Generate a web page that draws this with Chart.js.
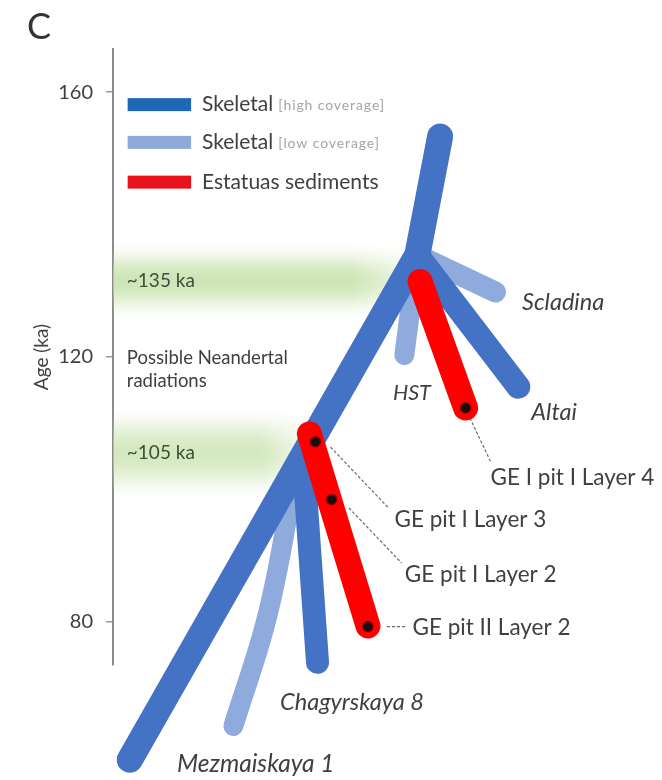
<!DOCTYPE html>
<html>
<head>
<meta charset="utf-8">
<script src="https://cdn.jsdelivr.net/npm/chart.js@4.4.1/dist/chart.umd.min.js"></script>
<style>
  html, body { margin: 0; padding: 0; background: #fff; }
</style>
</head>
<body>
<canvas id="chart" width="662" height="780"></canvas>
<script>
// Age axis (ka)
const Y_TICKS = [80, 120, 160];
const Y_RANGE = [73.5, 166.5];

// Branches: horizontal spread (arbitrary units 0-100) and age (ka)
const TRUNK_X = [3.1, 56.1, 60.3];
const TRUNK_AGE = [59.2, 135.4, 153.3];
const ALTAI_X = [56.1, 74.7];
const ALTAI_AGE = [135.4, 115.5];
const CHAGYRSKAYA_X = [35.0, 37.7];
const CHAGYRSKAYA_AGE = [105.3, 73.9];
const SCLADINA_X = [56.1, 70.5];
const SCLADINA_AGE = [135.4, 129.8];
const HST_X = [56.1, 53.7];
const HST_AGE = [135.4, 120.3];
const MEZMAISKAYA_X = [33.7, 28.6, 22.2];
const MEZMAISKAYA_AGE = [103.0, 81.4, 64.3];
const SED_UPPER_X = [56.6, 65.0];
const SED_UPPER_AGE = [131.4, 112.3];
const SED_LOWER_X = [36.2, 47.0];
const SED_LOWER_AGE = [108.4, 79.4];

// Sediment samples (dots) and their label leaders
const SAMPLE_NAMES = ['GE I pit I Layer 4', 'GE pit I Layer 3', 'GE pit I Layer 2', 'GE pit II Layer 2'];
const SAMPLE_X = [65.0, 37.3, 40.3, 47.0];
const SAMPLE_AGE = [112.3, 107.2, 98.5, 79.3];
const LEADER_X = [[65.8, 69.6], [40.1, 50.8], [43.5, 53.2], [50.5, 54.1]];
const LEADER_AGE = [[110.8, 104.2], [106.4, 97.2], [97.2, 88.9], [79.3, 79.3]];
const SAMPLE_LABEL_X = [69.6, 51.9, 53.8, 55.2];
const SAMPLE_LABEL_AGE = [101.8, 95.4, 87.1, 79.1];

// Possible radiation bands (ka)
const BAND_NAMES = ['~135 ka', '~105 ka'];
const BAND_AGE = [131.5, 105.5];

// Legend
const LEGEND_LABELS = ['Skeletal', 'Skeletal', 'Estatuas sediments'];
const LEGEND_NOTES = ['[high coverage]', '[low coverage]', ''];
const LEGEND_COLORS = ['#1F69B4', '#8EAADB', '#E8141C'];

const DARK = '#4472C4', LIGHT = '#8FAADC', RED = '#FF0000';
const FONT = 'Lato, "Open Sans", sans-serif';
const TEXT = '#404040';

function pts(xs, ys) {
  return xs.map((x, i) => ({ x: x, y: ys[i] }));
}

function branch(label, xs, ys, color, width, order, tension) {
  return {
    label: label,
    data: pts(xs, ys),
    borderColor: color,
    borderWidth: width,
    borderCapStyle: 'round',
    borderJoinStyle: 'round',
    pointRadius: 0,
    fill: false,
    tension: tension || 0,
    clip: false,
    order: order
  };
}

const datasets = [
  branch('Mezmaiskaya 1', MEZMAISKAYA_X, MEZMAISKAYA_AGE, LIGHT, 20, 4, 0.4),
  branch('Scladina', SCLADINA_X, SCLADINA_AGE, LIGHT, 21, 4),
  branch('HST', HST_X, HST_AGE, LIGHT, 20, 4),
  branch('Trunk', TRUNK_X, TRUNK_AGE, DARK, 26, 3),
  branch('Altai', ALTAI_X, ALTAI_AGE, DARK, 24, 3),
  branch('Chagyrskaya 8', CHAGYRSKAYA_X, CHAGYRSKAYA_AGE, DARK, 23, 3),
  branch('Sediments upper', SED_UPPER_X, SED_UPPER_AGE, RED, 25, 1),
  branch('Sediments lower', SED_LOWER_X, SED_LOWER_AGE, RED, 25, 1)
];

LEADER_X.forEach((xs, i) => {
  datasets.push({
    label: 'leader ' + i,
    data: pts(xs, LEADER_AGE[i]),
    borderColor: '#6a6a6a',
    borderWidth: 1.2,
    borderDash: [3, 2],
    pointRadius: 0,
    fill: false,
    clip: false,
    order: 2
  });
});

datasets.push({
  label: 'samples',
  data: pts(SAMPLE_X, SAMPLE_AGE),
  showLine: false,
  pointRadius: 5,
  pointBackgroundColor: '#111',
  pointBorderColor: '#800000',
  pointBorderWidth: 1.5,
  clip: false,
  order: 0
});

// soft green bands behind the tree, one row at a time
const bandPlugin = {
  id: 'bands',
  beforeDatasetsDraw(chart, args, opts) {
    const { ctx, scales: { x, y } } = chart;
    BAND_AGE.forEach((age, i) => {
      const top = y.getPixelForValue(age + opts.half[i]);
      const bottom = y.getPixelForValue(age - opts.half[i]);
      const x0 = x.getPixelForValue(0);
      const xf = x.getPixelForValue(opts.fadeFrom[i]);
      const x1 = x.getPixelForValue(opts.fadeTo[i]);
      const h = bottom - top;
      ctx.save();
      for (let r = 0; r < h; r++) {
        const t = (r + 0.5) / h;
        const a = Math.pow(Math.sin(Math.PI * t), 2) * 0.8;
        const g = ctx.createLinearGradient(x0, 0, x1, 0);
        const c = 'rgba(190,221,160,';
        g.addColorStop(0, c + a + ')');
        g.addColorStop((xf - x0) / (x1 - x0), c + a + ')');
        g.addColorStop(1, c + '0)');
        ctx.fillStyle = g;
        ctx.fillRect(x0, top + r, x1 - x0, 1);
      }
      ctx.restore();
    });
  }
};

// labels, legend, panel letter
const textPlugin = {
  id: 'texts',
  afterDatasetsDraw(chart, args, opts) {
    const { ctx, scales: { x, y } } = chart;
    const put = (text, px, py, font, color, align) => {
      ctx.font = font;
      ctx.fillStyle = color;
      ctx.textAlign = align || 'left';
      ctx.textBaseline = 'middle';
      ctx.fillText(text, px, py);
    };
    ctx.save();

    put('C', 27, 27, '36px ' + FONT, '#333');

    // legend
    LEGEND_LABELS.forEach((lab, i) => {
      const py = y.getPixelForValue(opts.legendAge[i]);
      const sx0 = x.getPixelForValue(opts.swatch[0]);
      const sx1 = x.getPixelForValue(opts.swatch[1]);
      ctx.fillStyle = LEGEND_COLORS[i];
      ctx.fillRect(sx0, py - 6.5, sx1 - sx0, 13);
      const tx = x.getPixelForValue(opts.legendText);
      put(lab, tx, py, '21px ' + FONT, TEXT);
      if (LEGEND_NOTES[i]) {
        ctx.font = '21px ' + FONT;
        const w = ctx.measureText(lab).width;
        ctx.letterSpacing = '0.9px';
        put(LEGEND_NOTES[i], tx + w + 5, py + 1, '14px ' + FONT, '#a4a4a4');
        ctx.letterSpacing = '0px';
      }
    });

    // bands
    BAND_NAMES.forEach((name, i) => {
      put(name, x.getPixelForValue(opts.leftText), y.getPixelForValue(BAND_AGE[i]), '19px ' + FONT, '#3f4d3a');
    });
    put('Possible Neandertal', x.getPixelForValue(opts.leftText), y.getPixelForValue(119.9), '18.5px ' + FONT, TEXT);
    put('radiations', x.getPixelForValue(opts.leftText), y.getPixelForValue(116.3), '18.5px ' + FONT, TEXT);

    // branch names
    opts.names.forEach(n => {
      put(n.text, x.getPixelForValue(n.x), y.getPixelForValue(n.age), 'italic ' + n.size + 'px ' + FONT, TEXT);
    });

    // sample names
    SAMPLE_NAMES.forEach((s, i) => {
      put(s, x.getPixelForValue(SAMPLE_LABEL_X[i]), y.getPixelForValue(SAMPLE_LABEL_AGE[i]), '22.5px ' + FONT, TEXT);
    });
    ctx.restore();
  }
};

new Chart(document.getElementById('chart'), {
  type: 'line',
  data: { datasets: datasets },
  options: {
    responsive: false,
    animation: false,
    events: [],
    layout: { padding: { top: 49, bottom: 115, left: 0, right: 0 } },
    scales: {
      x: { type: 'linear', min: 0, max: 100, display: false },
      y: {
        type: 'linear',
        min: Y_RANGE[0],
        max: Y_RANGE[1],
        afterBuildTicks: s => { s.ticks = Y_TICKS.map(v => ({ value: v })); },
        afterFit: s => { s.width = 113; },
        border: { display: true, color: '#8c8c8c', width: 2 },
        grid: { drawOnChartArea: false, drawTicks: true, tickLength: 7, color: '#9a9a9a', lineWidth: 1.5 },
        ticks: { font: { family: FONT, size: 20 }, color: TEXT, padding: 13 },
        title: {
          display: true,
          text: 'Age (ka)',
          font: { family: FONT, size: 19 },
          color: TEXT,
          padding: { top: 30, bottom: 0 }
        }
      }
    },
    plugins: {
      legend: { display: false },
      tooltip: { enabled: false },
      bands: { half: [6, 7], fadeFrom: [44, 27], fadeTo: [59, 38] },
      texts: {
        legendAge: [158.1, 152.4, 146.4],
        swatch: [2.7, 14.4],
        legendText: 16.4,
        leftText: 2.55,
        names: [
          { text: 'Scladina', x: 75.4, age: 128.2, size: 23.5 },
          { text: 'HST', x: 51.6, age: 114.6, size: 21.5 },
          { text: 'Altai', x: 77.1, age: 111.6, size: 23.5 },
          { text: 'Chagyrskaya 8', x: 30.8, age: 67.9, size: 23.5 },
          { text: 'Mezmaiskaya 1', x: 11.8, age: 58.5, size: 24.5 }
        ]
      }
    }
  },
  plugins: [bandPlugin, textPlugin]
});
</script>
</body>
</html>
